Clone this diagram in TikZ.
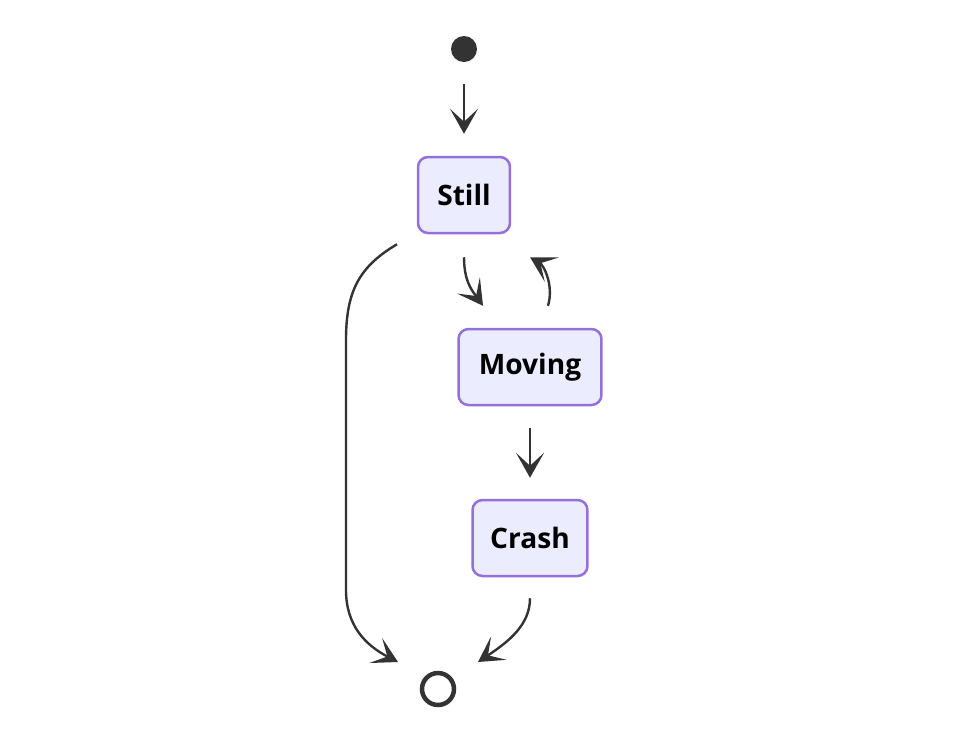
\documentclass[tikz,border=0pt]{standalone}
\usepackage{fontspec}
\setmainfont{Open Sans}
\usetikzlibrary{arrows.meta,calc}
\definecolor{stfill}{HTML}{ECECFF}
\definecolor{stline}{HTML}{9370DB}
\definecolor{edgeclr}{HTML}{333333}
\tikzset{
  state/.style={draw=stline,fill=stfill,line width=0.05cm,rounded corners=0.2cm,
    minimum height=1.52cm,inner sep=0pt,text=black,
    font=\fontsize{16}{19}\selectfont\bfseries},
  edge/.style={draw=edgeclr,line width=0.048cm,
    -{Stealth[length=0.5cm,width=0.56cm,inset=0.26cm]}},
}
\begin{document}
\begin{tikzpicture}[x=0.02cm,y=-0.02cm]
\useasboundingbox (0,0) rectangle (957,728);
\node[circle,fill=edgeclr,minimum size=0.52cm,inner sep=0pt] (start) at (464,49) {};
\node[circle,draw=edgeclr,line width=0.09cm,minimum size=0.64cm,inner sep=0pt] (end) at (438,689) {};
\node[state,minimum width=1.84cm] (still) at (464,195) {Still};
\node[state,minimum width=2.86cm] (moving) at (530,367) {Moving};
\node[state,minimum width=2.30cm] (crash) at (530,538) {Crash};
\draw[edge] ($(start.south)+(0,22)$) -- ($(still.north)+(0,-22)$);
\draw[edge] ($(still.south)+(0,23)$) .. controls +(0,25) and +(-10,-14) .. ($(moving.north)+(-47,-22)$);
\draw[edge] ($(moving.north)+(18,-22)$) .. controls +(6,-20) and +(14,8) .. ($(still.south)+(66,23)$);
\draw[edge] ($(still.south)+(-67,10)$) .. controls +(-37,22) and +(0,-50) .. (346,340)
  -- (346,590) .. controls +(0,35) and +(-33,-17) .. ($(end)+(-40,-27)$);
\draw[edge] ($(moving.south)+(0,22)$) -- ($(crash.north)+(0,-21)$);
\draw[edge] ($(crash.south)+(0,21)$) .. controls +(0,27) and +(30,-20) .. ($(end)+(40,-27)$);
\end{tikzpicture}
\end{document}
